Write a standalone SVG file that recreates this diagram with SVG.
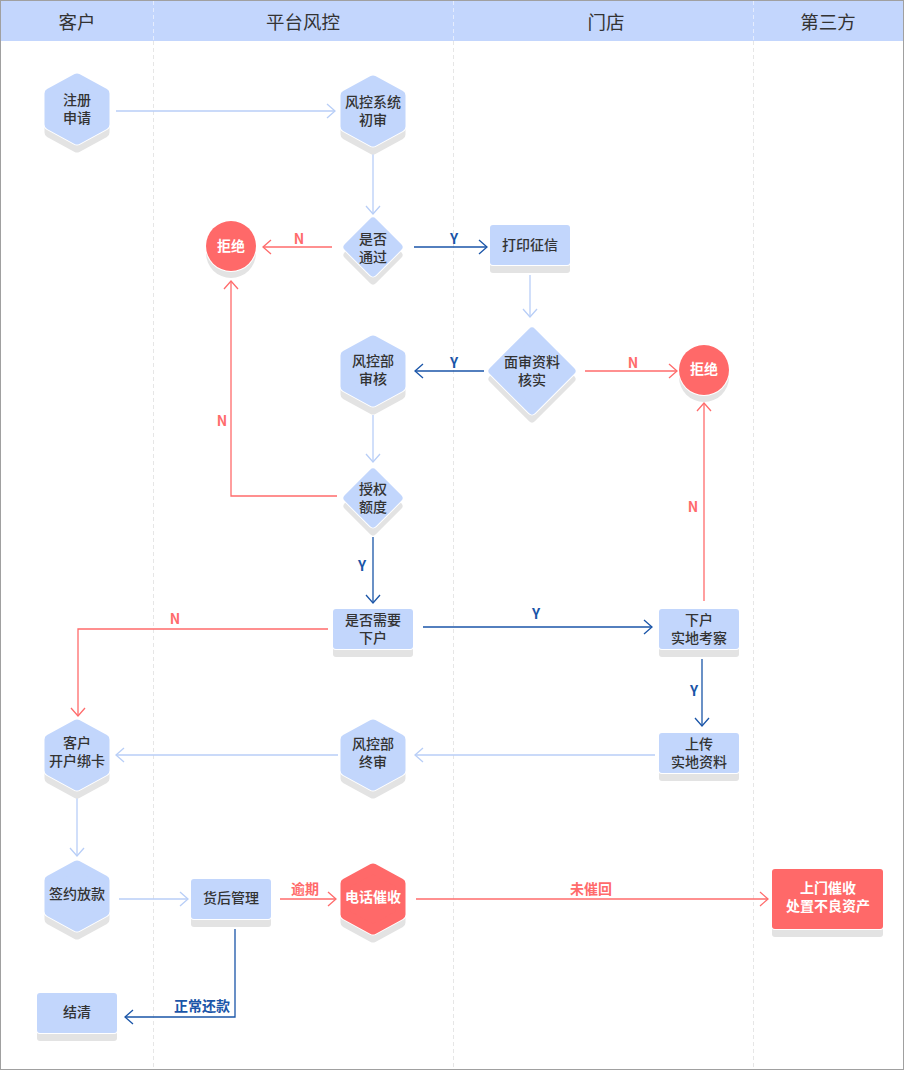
<svg xmlns="http://www.w3.org/2000/svg" width="904" height="1070" viewBox="0 0 904 1070">
<style>
.hdr{font-family:"Noto Sans CJK SC","Liberation Sans",sans-serif;font-size:18.5px;fill:#333;text-anchor:middle}
.t{font-family:"Noto Sans CJK SC","Liberation Sans",sans-serif;font-size:14px;fill:#333;text-anchor:middle;font-weight:500}
.tw{font-family:"Noto Sans CJK SC","Liberation Sans",sans-serif;font-size:14px;fill:#fff;text-anchor:middle;font-weight:bold}
.lr{font-family:"Noto Sans CJK SC","Liberation Sans",sans-serif;font-size:14px;fill:#ff6b6b;text-anchor:middle;font-weight:bold}
.lb{font-family:"Noto Sans CJK SC","Liberation Sans",sans-serif;font-size:14px;fill:#1a55a8;text-anchor:middle;font-weight:bold}
.lane{stroke:#e6e6e6;stroke-width:1;stroke-dasharray:4 3}
.laneh{stroke:#e4ecfe;stroke-width:1;stroke-dasharray:4 3}
.shadowh{fill:#e3e3e3;stroke:#e3e3e3;stroke-width:10;stroke-linejoin:round}
.whiteh{fill:#fff;stroke:#fff;stroke-width:12;stroke-linejoin:round}
.hexb{fill:#c2d6fc;stroke:#c2d6fc;stroke-width:10;stroke-linejoin:round}
.hexr{fill:#ff6969;stroke:#ff6969;stroke-width:10;stroke-linejoin:round}
.shadowd{fill:#e3e3e3;stroke:#e3e3e3;stroke-width:8;stroke-linejoin:round}
.whited{fill:#fff;stroke:#fff;stroke-width:10;stroke-linejoin:round}
.dia{fill:#c2d6fc;stroke:#c2d6fc;stroke-width:8;stroke-linejoin:round}
.rb{fill:#c2d6fc}
.rr{fill:#ff6969}
.sh{fill:#e3e3e3}
.wt{fill:#fff}
.cl{fill:none;stroke:#b8cef7;stroke-width:1.3}
.cb{fill:none;stroke:#1a55a8;stroke-width:1.3}
.cr{fill:none;stroke:#ff6b6b;stroke-width:1.3}
</style>
<defs>
<path id="hex" d="M0,-30.5 L27.5,-15.5 L27.5,15.5 L0,30.5 L-27.5,15.5 L-27.5,-15.5 Z"/>
<path id="dia" d="M0,-25.5 L25.5,0 L0,25.5 L-25.5,0 Z"/>
<path id="diaL" d="M0,-39.5 L39.5,0 L0,39.5 L-39.5,0 Z"/>
<marker id="ab" markerWidth="12" markerHeight="18" refX="10" refY="9" orient="auto" markerUnits="userSpaceOnUse"><path d="M2,2 L10,9 L2,16" fill="none" stroke="#b8cef7" stroke-width="1.3"/></marker>
<marker id="ad" markerWidth="12" markerHeight="18" refX="10" refY="9" orient="auto" markerUnits="userSpaceOnUse"><path d="M2,2 L10,9 L2,16" fill="none" stroke="#1a55a8" stroke-width="1.3"/></marker>
<marker id="ar" markerWidth="12" markerHeight="18" refX="10" refY="9" orient="auto" markerUnits="userSpaceOnUse"><path d="M2,2 L10,9 L2,16" fill="none" stroke="#ff6b6b" stroke-width="1.3"/></marker>
</defs>

<rect x="0" y="0" width="904" height="1070" fill="#fff"/>
<g id="lanes">
<rect x="1" y="1" width="902" height="40" fill="#c3d6fd"/>
<line class="laneh" x1="153.5" y1="1" x2="153.5" y2="41"/>
<line class="laneh" x1="453.5" y1="1" x2="453.5" y2="41"/>
<line class="laneh" x1="753.5" y1="1" x2="753.5" y2="41"/>
<line class="lane" x1="153.5" y1="41" x2="153.5" y2="1069"/>
<line class="lane" x1="453.5" y1="41" x2="453.5" y2="1069"/>
<line class="lane" x1="753.5" y1="41" x2="753.5" y2="1069"/>
<text class="hdr" x="77" y="29">客户</text>
<text class="hdr" x="303" y="29">平台风控</text>
<text class="hdr" x="606" y="29">门店</text>
<text class="hdr" x="828" y="29">第三方</text>
<rect x="0.5" y="0.5" width="903" height="1069" fill="none" stroke="#a0a0a0" stroke-width="1"/>
</g>

<g id="connectors">
<line class="cl" x1="116" y1="111" x2="335" y2="111" marker-end="url(#ab)"/>
<line class="cl" x1="373" y1="154" x2="373" y2="214" marker-end="url(#ab)"/>
<line class="cr" x1="332" y1="247" x2="263" y2="247" marker-end="url(#ar)"/>
<line class="cb" x1="414" y1="247" x2="487" y2="247" marker-end="url(#ad)"/>
<line class="cl" x1="530" y1="275" x2="530" y2="317" marker-end="url(#ab)"/>
<line class="cb" x1="484" y1="371" x2="415" y2="371" marker-end="url(#ad)"/>
<line class="cr" x1="585" y1="371" x2="677" y2="371" marker-end="url(#ar)"/>
<line class="cl" x1="373" y1="415" x2="373" y2="462" marker-end="url(#ab)"/>
<polyline class="cr" points="337,496 231,496 231,281" marker-end="url(#ar)"/>
<line class="cb" x1="373" y1="537" x2="373" y2="603" marker-end="url(#ad)"/>
<line class="cb" x1="423" y1="627" x2="652" y2="627" marker-end="url(#ad)"/>
<polyline class="cr" points="328,629 78,629 78,716" marker-end="url(#ar)"/>
<line class="cr" x1="704" y1="601" x2="704" y2="403" marker-end="url(#ar)"/>
<line class="cb" x1="702" y1="659" x2="702" y2="726" marker-end="url(#ad)"/>
<line class="cl" x1="655" y1="755" x2="415" y2="755" marker-end="url(#ab)"/>
<line class="cl" x1="338" y1="755" x2="116" y2="755" marker-end="url(#ab)"/>
<line class="cl" x1="77" y1="798" x2="77" y2="856" marker-end="url(#ab)"/>
<line class="cl" x1="119" y1="899" x2="188" y2="899" marker-end="url(#ab)"/>
<line class="cr" x1="280" y1="899" x2="336" y2="899" marker-end="url(#ar)"/>
<line class="cr" x1="416" y1="899" x2="768" y2="899" marker-end="url(#ar)"/>
<polyline class="cb" points="235,929 235,1017 125,1017" marker-end="url(#ad)"/>
<text class="lr" x="299" y="244">N</text>
<text class="lb" x="454" y="244">Y</text>
<text class="lb" x="454" y="368">Y</text>
<text class="lr" x="633" y="368">N</text>
<text class="lr" x="222" y="426">N</text>
<text class="lb" x="362" y="571">Y</text>
<text class="lb" x="536" y="619">Y</text>
<text class="lr" x="175" y="624">N</text>
<text class="lr" x="693" y="512">N</text>
<text class="lb" x="694" y="696">Y</text>
<text class="lr" x="305" y="894">逾期</text>
<text class="lr" x="591" y="894">未催回</text>
<text class="lb" x="202" y="1011">正常还款</text>
</g>

<g id="n-register" transform="translate(77,109)">
<use href="#hex" class="shadowh" y="8"/><use href="#hex" class="whiteh"/><use href="#hex" class="hexb"/>
<text class="t" x="0" y="-4">注册</text><text class="t" x="0" y="14">申请</text>
</g>
<g id="n-initial" transform="translate(373,111)">
<use href="#hex" class="shadowh" y="8"/><use href="#hex" class="whiteh"/><use href="#hex" class="hexb"/>
<text class="t" x="0" y="-4">风控系统</text><text class="t" x="0" y="14">初审</text>
</g>
<g id="n-pass" transform="translate(373,247)">
<use href="#dia" class="shadowd" y="8"/><use href="#dia" class="whited"/><use href="#dia" class="dia"/>
<text class="t" x="0" y="-3">是否</text><text class="t" x="0" y="15">通过</text>
</g>
<g id="n-reject1">
<circle cx="231" cy="253" r="25" class="sh"/><circle cx="231" cy="246" r="26" class="wt"/><circle cx="231" cy="246" r="25" class="rr"/>
<text class="tw" x="231" y="251">拒绝</text>
</g>
<g id="n-print">
<rect x="490" y="233" width="80" height="40" rx="3" class="sh"/><rect x="489" y="224" width="82" height="42" rx="4" class="wt"/><rect x="490" y="225" width="80" height="40" rx="3" class="rb"/>
<text class="t" x="530" y="250">打印征信</text>
</g>
<g id="n-verify" transform="translate(532,371)">
<use href="#diaL" class="shadowd" y="8"/><use href="#diaL" class="whited"/><use href="#diaL" class="dia"/>
<text class="t" x="0" y="-4">面审资料</text><text class="t" x="0" y="14">核实</text>
</g>
<g id="n-reject2">
<circle cx="704" cy="377" r="25" class="sh"/><circle cx="704" cy="370" r="26" class="wt"/><circle cx="704" cy="370" r="25" class="rr"/>
<text class="tw" x="704" y="374">拒绝</text>
</g>
<g id="n-review" transform="translate(373,371)">
<use href="#hex" class="shadowh" y="8"/><use href="#hex" class="whiteh"/><use href="#hex" class="hexb"/>
<text class="t" x="0" y="-5">风控部</text><text class="t" x="0" y="13">审核</text>
</g>
<g id="n-quota" transform="translate(373,498)">
<use href="#dia" class="shadowd" y="8"/><use href="#dia" class="whited"/><use href="#dia" class="dia"/>
<text class="t" x="0" y="-4">授权</text><text class="t" x="0" y="14">额度</text>
</g>
<g id="n-need">
<rect x="333" y="617" width="80" height="40" rx="3" class="sh"/><rect x="332" y="608" width="82" height="42" rx="4" class="wt"/><rect x="333" y="609" width="80" height="40" rx="3" class="rb"/>
<text class="t" x="373" y="625">是否需要</text><text class="t" x="373" y="643">下户</text>
</g>
<g id="n-visit">
<rect x="659" y="617" width="80" height="40" rx="3" class="sh"/><rect x="658" y="608" width="82" height="42" rx="4" class="wt"/><rect x="659" y="609" width="80" height="40" rx="3" class="rb"/>
<text class="t" x="699" y="625">下户</text><text class="t" x="699" y="643">实地考察</text>
</g>
<g id="n-upload">
<rect x="659" y="741" width="80" height="40" rx="3" class="sh"/><rect x="658" y="732" width="82" height="42" rx="4" class="wt"/><rect x="659" y="733" width="80" height="40" rx="3" class="rb"/>
<text class="t" x="699" y="749">上传</text><text class="t" x="699" y="767">实地资料</text>
</g>
<g id="n-final" transform="translate(373,755)">
<use href="#hex" class="shadowh" y="8"/><use href="#hex" class="whiteh"/><use href="#hex" class="hexb"/>
<text class="t" x="0" y="-6">风控部</text><text class="t" x="0" y="12">终审</text>
</g>
<g id="n-account" transform="translate(77,755)">
<use href="#hex" class="shadowh" y="8"/><use href="#hex" class="whiteh"/><use href="#hex" class="hexb"/>
<text class="t" x="0" y="-7">客户</text><text class="t" x="0" y="11">开户绑卡</text>
</g>
<g id="n-sign" transform="translate(77,896)">
<use href="#hex" class="shadowh" y="8"/><use href="#hex" class="whiteh"/><use href="#hex" class="hexb"/>
<text class="t" x="0" y="3">签约放款</text>
</g>
<g id="n-post">
<rect x="191" y="887" width="80" height="40" rx="3" class="sh"/><rect x="190" y="878" width="82" height="42" rx="4" class="wt"/><rect x="191" y="879" width="80" height="40" rx="3" class="rb"/>
<text class="t" x="231" y="903">货后管理</text>
</g>
<g id="n-call" transform="translate(373,899)">
<use href="#hex" class="shadowh" y="8"/><use href="#hex" class="whiteh"/><use href="#hex" class="hexr"/>
<text class="tw" x="0" y="3">电话催收</text>
</g>
<g id="n-settle">
<rect x="37" y="1001" width="80" height="40" rx="3" class="sh"/><rect x="36" y="992" width="82" height="42" rx="4" class="wt"/><rect x="37" y="993" width="80" height="40" rx="3" class="rb"/>
<text class="t" x="77" y="1017">结清</text>
</g>
<g id="n-door">
<rect x="772" y="877" width="111" height="60" rx="3" class="sh"/><rect x="771" y="868" width="113" height="62" rx="4" class="wt"/><rect x="772" y="869" width="111" height="60" rx="3" class="rr"/>
<text class="tw" x="828" y="893">上门催收</text><text class="tw" x="828" y="911">处置不良资产</text>
</g>
</svg>
